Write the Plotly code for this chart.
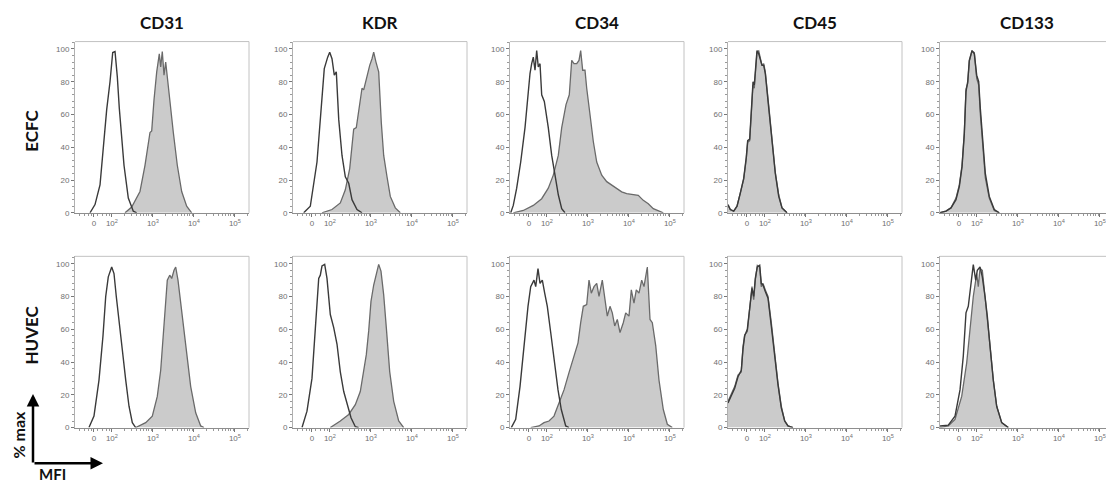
import math
import plotly.graph_objects as go

W, H = 1106, 487

markers = ["CD31", "KDR", "CD34", "CD45", "CD133"]
cell_types = ["ECFC", "HUVEC"]

# x: position on the biexponential display axis (10^2 -> 2, 10^3 -> 3, ...)
# y: % of max
cd31_ecfc_ctrl_x = [1.466, 1.588, 1.71, 1.79, 1.856, 1.873, 1.954, 2.02, 2.076, 2.132, 2.18, 2.295, 2.40, 2.522, 2.605]
cd31_ecfc_ctrl_y = [0, 5, 17, 39, 61, 63, 80, 97.8, 98.4, 83, 64, 29, 9, 1, 0]
cd31_ecfc_stain_x = [2.32, 2.483, 2.685, 2.807, 2.929, 2.971, 3.027, 3.093, 3.156, 3.19, 3.229, 3.271, 3.312, 3.351, 3.417, 3.498, 3.595, 3.702, 3.824, 3.946]
cd31_ecfc_stain_y = [0, 3.5, 13, 29, 49, 50, 69, 86, 97, 89, 98.4, 84, 92, 82, 69, 49, 29, 13, 4, 0]

cd31_huvec_ctrl_x = [1.441, 1.563, 1.685, 1.783, 1.849, 1.912, 1.995, 2.051, 2.107, 2.173, 2.254, 2.337, 2.417, 2.498, 2.58]
cd31_huvec_ctrl_y = [0, 7, 29, 56, 80, 92, 98, 94, 80, 64, 47.5, 29, 13, 3, 0]
cd31_huvec_stain_x = [2.58, 2.824, 2.985, 3.107, 3.19, 3.271, 3.351, 3.41, 3.459, 3.515, 3.556, 3.612, 3.678, 3.759, 3.839, 3.922, 4.044, 4.166, 4.246]
cd31_huvec_stain_y = [0, 3, 7, 19, 35, 66, 90, 93, 91, 96, 98, 90, 76, 59, 39, 25, 9, 1, 0]

kdr_ecfc_ctrl_x = [1.361, 1.522, 1.685, 1.751, 1.807, 1.863, 1.946, 1.995, 2.051, 2.107, 2.156, 2.215, 2.295, 2.376, 2.459, 2.539, 2.661, 2.783]
kdr_ecfc_ctrl_y = [0, 4, 31, 52, 70, 88, 95, 98, 94, 84, 86, 57, 35, 22, 18, 8, 2, 0]
kdr_ecfc_stain_x = [1.807, 2.051, 2.254, 2.376, 2.483, 2.58, 2.644, 2.702, 2.783, 2.824, 2.888, 2.971, 3.027, 3.068, 3.124, 3.19, 3.254, 3.312, 3.393, 3.473, 3.595, 3.717]
kdr_ecfc_stain_y = [0, 2, 6, 14, 27, 51, 52, 61, 76, 75, 82, 90, 94, 98, 92, 86, 55, 35, 22, 10, 3, 0]

kdr_huvec_ctrl_x = [1.32, 1.441, 1.563, 1.668, 1.727, 1.766, 1.807, 1.873, 1.929, 2.01, 2.093, 2.173, 2.254, 2.337, 2.417, 2.515, 2.62, 2.702]
kdr_huvec_ctrl_y = [0, 10, 30, 71, 91, 93, 98.6, 99.6, 91, 69, 61, 51, 34, 22, 14, 6, 0.5, 0]
kdr_huvec_stain_x = [2.01, 2.254, 2.459, 2.62, 2.741, 2.824, 2.888, 2.946, 3.002, 3.068, 3.132, 3.19, 3.246, 3.312, 3.376, 3.459, 3.556, 3.678, 3.80]
kdr_huvec_stain_y = [0, 4, 8, 14, 22, 34, 44.5, 59, 77, 87, 93.5, 99.6, 95.5, 81, 61, 34, 16, 4, 0]

cd34_ecfc_ctrl_x = [1.117, 1.18, 1.263, 1.361, 1.466, 1.546, 1.588, 1.629, 1.668, 1.71, 1.751, 1.79, 1.832, 1.873, 1.937, 2.034, 2.117, 2.198, 2.278, 2.361, 2.441]
cd34_ecfc_ctrl_y = [0, 4.5, 15, 31, 52, 76, 85, 91, 95, 87, 99, 89, 91, 72, 68, 52, 35, 23, 11, 2.5, 0]
cd34_ecfc_stain_x = [1.18, 1.424, 1.668, 1.873, 2.034, 2.156, 2.278, 2.361, 2.466, 2.546, 2.605, 2.661, 2.727, 2.783, 2.824, 2.873, 2.929, 2.971, 3.051, 3.132, 3.215, 3.337, 3.459, 3.58, 3.702, 3.824, 3.946, 4.107, 4.229, 4.351, 4.473, 4.595, 4.759, 4.839]
cd34_ecfc_stain_y = [0, 1.4, 4.5, 8.6, 15, 23, 35, 52, 66, 72, 93, 91, 91, 93, 99, 87, 87, 76, 60, 43.5, 31, 23, 19, 17, 15, 12.8, 11.7, 11, 10.7, 7.6, 5.5, 2.5, 0.5, 0]

cd34_huvec_ctrl_x = [1.132, 1.239, 1.344, 1.441, 1.483, 1.539, 1.605, 1.685, 1.727, 1.783, 1.832, 1.888, 1.946, 2.01, 2.093, 2.19, 2.271, 2.351, 2.459, 2.539]
cd34_huvec_ctrl_y = [0, 5, 25, 50, 62, 74, 86, 90, 86, 97, 88, 90, 82, 74, 58, 37.5, 23, 11, 1, 0]
cd34_huvec_stain_x = [1.605, 1.807, 1.929, 2.051, 2.173, 2.295, 2.417, 2.539, 2.661, 2.759, 2.824, 2.888, 2.971, 3.027, 3.083, 3.149, 3.215, 3.271, 3.351, 3.41, 3.473, 3.539, 3.595, 3.654, 3.717, 3.783, 3.863, 3.922, 4.002, 4.059, 4.124, 4.18, 4.246, 4.312, 4.368, 4.449, 4.515, 4.571, 4.654, 4.734, 4.839, 4.937, 5.059]
cd34_huvec_stain_y = [0, 1, 3, 4, 7, 15, 23, 33.5, 43.6, 51.7, 64, 74, 75, 90, 82, 86, 88, 80, 90, 80, 68, 74, 70, 62, 66, 58, 64, 70, 68, 84, 76, 84, 82, 90, 86, 98, 66, 64, 50, 29, 11, 2, 0]

cd45_ecfc_x = [1.10, 1.156, 1.239, 1.32, 1.40, 1.483, 1.546, 1.58, 1.629, 1.668, 1.71, 1.741, 1.776, 1.807, 1.849, 1.888, 1.929, 1.971, 2.01, 2.093, 2.173, 2.254, 2.337, 2.417, 2.539]
cd45_ecfc_ctrl_y = [5, 2, 1, 4, 12, 21, 34, 44, 45, 62, 80, 78, 91, 99, 97, 93, 90, 90, 85, 64, 42, 24, 10, 3, 0]
cd45_ecfc_stain_y = [4.5, 2, 1, 4, 12, 20.5, 33, 43, 44, 63.5, 78, 76, 90, 98, 98.8, 94, 90, 91, 86, 65.6, 43, 24.6, 11, 3, 0]

cd45_huvec_x = [1.10, 1.18, 1.263, 1.344, 1.424, 1.466, 1.507, 1.571, 1.629, 1.685, 1.727, 1.766, 1.815, 1.873, 1.912, 1.954, 2.01, 2.076, 2.156, 2.239, 2.32, 2.40, 2.483, 2.563, 2.685]
cd45_huvec_ctrl_y = [15, 19, 24, 31, 35, 48, 56, 60, 75, 85, 80, 91, 98, 99, 88, 87, 83, 79, 62, 42, 26, 12, 4, 1, 0]
cd45_huvec_stain_y = [16, 20, 25, 32, 34, 49.5, 56.6, 58.6, 74, 86, 78, 90, 99, 98, 86, 88, 84, 80, 64, 43.5, 27, 13, 4, 1, 0]

cd133_ecfc_x = [1.10, 1.246, 1.368, 1.49, 1.571, 1.637, 1.693, 1.734, 1.776, 1.815, 1.88, 1.937, 1.995, 2.044, 2.083, 2.141, 2.205, 2.302, 2.424, 2.546]
cd133_ecfc_ctrl_y = [0, 1, 3, 8, 16, 28, 48, 74, 80, 93, 99, 97, 84, 80, 64, 44, 24, 10, 2, 0]
cd133_ecfc_stain_y = [0, 1, 3, 9, 17, 29, 49, 75.5, 79, 92.5, 98.7, 97.7, 82, 78, 60.4, 40, 21.5, 9, 1.4, 0]

cd133_huvec_ctrl_x = [1.10, 1.302, 1.466, 1.588, 1.668, 1.734, 1.79, 1.849, 1.912, 1.971, 2.01, 2.076, 2.132, 2.198, 2.254, 2.32, 2.40, 2.483, 2.605, 2.766]
cd133_huvec_ctrl_y = [1, 1.5, 7, 23, 43.6, 70, 74, 88, 99.4, 90, 96, 98, 92, 80, 68, 49.7, 29, 13, 3, 0]
cd133_huvec_stain_x = [1.10, 1.302, 1.466, 1.629, 1.751, 1.832, 1.912, 1.995, 2.034, 2.076, 2.132, 2.198, 2.254, 2.32, 2.40, 2.483, 2.605, 2.766]
cd133_huvec_stain_y = [0, 1, 5, 19, 39.5, 60, 80, 94, 86, 97, 96, 80, 68, 50, 29, 13, 3, 0]

# Axis labelling on the biexponential scale
x_tick_vals = [1.563, 2, 3, 4, 5]
x_tick_text = ["0", "10<sup>2</sup>", "10<sup>3</sup>", "10<sup>4</sup>", "10<sup>5</sup>"]
y_tick_vals = [0, 20, 40, 60, 80, 100]

# (control x, control y, stained x, stained y) per row, per column
panels = [
    [
        (cd31_ecfc_ctrl_x, cd31_ecfc_ctrl_y, cd31_ecfc_stain_x, cd31_ecfc_stain_y),
        (kdr_ecfc_ctrl_x, kdr_ecfc_ctrl_y, kdr_ecfc_stain_x, kdr_ecfc_stain_y),
        (cd34_ecfc_ctrl_x, cd34_ecfc_ctrl_y, cd34_ecfc_stain_x, cd34_ecfc_stain_y),
        (cd45_ecfc_x, cd45_ecfc_ctrl_y, cd45_ecfc_x, cd45_ecfc_stain_y),
        (cd133_ecfc_x, cd133_ecfc_ctrl_y, cd133_ecfc_x, cd133_ecfc_stain_y),
    ],
    [
        (cd31_huvec_ctrl_x, cd31_huvec_ctrl_y, cd31_huvec_stain_x, cd31_huvec_stain_y),
        (kdr_huvec_ctrl_x, kdr_huvec_ctrl_y, kdr_huvec_stain_x, kdr_huvec_stain_y),
        (cd34_huvec_ctrl_x, cd34_huvec_ctrl_y, cd34_huvec_stain_x, cd34_huvec_stain_y),
        (cd45_huvec_x, cd45_huvec_ctrl_y, cd45_huvec_x, cd45_huvec_stain_y),
        (cd133_huvec_ctrl_x, cd133_huvec_ctrl_y, cd133_huvec_stain_x, cd133_huvec_stain_y),
    ],
]

# Panel geometry (pixels)
col_left = [75, 293, 510, 728, 940]
panel_w = 174
row_top = [42, 259]
panel_h = 173
px_per_decade = 41.0
X_MIN = 1.10
Y_RANGE = [0, 104.5]

# Log minor ticks plus a few in the linear zone around zero
minor_x = [1.22, 1.32, 1.42, 1.50, 1.66, 1.76, 1.86, 1.93]
for n in (2, 3, 4):
    for k in range(2, 10):
        minor_x.append(n + math.log10(k))
minor_x.append(5 + math.log10(2))

FILL = "#cbcbcb"
STAIN_LINE = "#6a6a6a"
CTRL_LINE = "#3a3a3a"
FRAME = "#c2c2c2"
TICK_FONT = dict(family="Liberation Sans, Arial, sans-serif", size=8, color="#707070")
LABEL_FONT = dict(family="Lato, Open Sans, sans-serif", size=17, color="#111111")

fig = go.Figure()
shapes = []
layout_axes = {}

idx = 0
for r in range(2):
    for c in range(5):
        idx += 1
        sfx = "" if idx == 1 else str(idx)
        left = col_left[c]
        right = min(left + panel_w, W)
        x_max = X_MIN + (right - left) / px_per_decade
        top = row_top[r]
        bottom = top + panel_h

        ctrl_x, ctrl_y, st_x, st_y = panels[r][c]
        fig.add_trace(go.Scatter(
            x=st_x, y=st_y, mode="lines", fill="tozeroy", fillcolor=FILL,
            line=dict(color=STAIN_LINE, width=1.3), xaxis="x" + sfx, yaxis="y" + sfx,
            showlegend=False, hoverinfo="skip"))
        fig.add_trace(go.Scatter(
            x=ctrl_x, y=ctrl_y, mode="lines",
            line=dict(color=CTRL_LINE, width=1.4), xaxis="x" + sfx, yaxis="y" + sfx,
            showlegend=False, hoverinfo="skip"))

        layout_axes["xaxis" + sfx] = dict(
            domain=[left / W, right / W], range=[X_MIN, x_max], anchor="y" + sfx,
            showgrid=False, zeroline=False, showline=True, linecolor="#8e8e8e", linewidth=1,
            tickmode="array", tickvals=x_tick_vals, ticktext=x_tick_text,
            ticks="outside", ticklen=3, tickcolor="#777777", tickwidth=1,
            tickfont=TICK_FONT,
            minor=dict(tickmode="array", tickvals=minor_x, ticks="outside",
                       ticklen=2, tickcolor="#999999", tickwidth=1),
        )
        layout_axes["yaxis" + sfx] = dict(
            domain=[1 - bottom / H, 1 - top / H], range=Y_RANGE, anchor="x" + sfx,
            showgrid=False, zeroline=False, showline=True, linecolor="#b0b0b0", linewidth=1,
            tickmode="array", tickvals=y_tick_vals,
            ticks="outside", ticklen=3, tickcolor="#777777", tickwidth=1,
            tickfont=TICK_FONT,
            minor=dict(dtick=4, tick0=0, ticks="outside", ticklen=2,
                       tickcolor="#999999", tickwidth=1),
        )

        xref = "x" + sfx + " domain"
        yref = "y" + sfx + " domain"
        shapes.append(dict(type="line", xref=xref, yref=yref, x0=0, x1=1, y0=1, y1=1,
                           line=dict(color=FRAME, width=1)))
        if left + panel_w <= W:
            shapes.append(dict(type="line", xref=xref, yref=yref, x0=1, x1=1, y0=0, y1=1,
                               line=dict(color=FRAME, width=1)))

annotations = []
for c, name in enumerate(markers):
    cx = (col_left[c] + panel_w / 2) / W
    annotations.append(dict(text="<b>%s</b>" % name, x=cx, y=1 - 23 / H, xref="paper", yref="paper",
                            showarrow=False, font=LABEL_FONT, xanchor="center", yanchor="middle"))

row_label_y = [132, 339]
for r, name in enumerate(cell_types):
    annotations.append(dict(text="<b>%s</b>" % name, x=32 / W, y=1 - row_label_y[r] / H,
                            xref="paper", yref="paper", showarrow=False, textangle=-90,
                            font=LABEL_FONT, xanchor="center", yanchor="middle"))

# Axis key: % max (up) and MFI (right)
annotations.append(dict(text="<b>% max</b>", x=18 / W, y=1 - 439 / H, xref="paper", yref="paper",
                        showarrow=False, textangle=-90, font=dict(LABEL_FONT, size=16),
                        xanchor="center", yanchor="middle"))
annotations.append(dict(text="<b>MFI</b>", x=52 / W, y=1 - 489 / H, xref="paper", yref="paper",
                        showarrow=False, font=dict(LABEL_FONT, size=15), borderpad=0,
                        xanchor="center", yanchor="bottom"))
annotations.append(dict(x=33 / W, y=1 - 398 / H, xref="paper", yref="paper", ax=0, ay=70,
                        axref="pixel", ayref="pixel", showarrow=True, arrowhead=2,
                        arrowsize=1, arrowwidth=2.5, arrowcolor="#000000", text=""))
annotations.append(dict(x=103 / W, y=1 - 468 / H, xref="paper", yref="paper", ax=-70, ay=0,
                        axref="pixel", ayref="pixel", showarrow=True, arrowhead=2,
                        arrowsize=1, arrowwidth=2.5, arrowcolor="#000000", text=""))

fig.update_layout(
    width=W, height=H, margin=dict(l=0, r=0, t=0, b=0),
    paper_bgcolor="white", plot_bgcolor="white",
    shapes=shapes, annotations=annotations, showlegend=False,
    **layout_axes,
)

fig.write_html("out.html", config={"displayModeBar": False})
